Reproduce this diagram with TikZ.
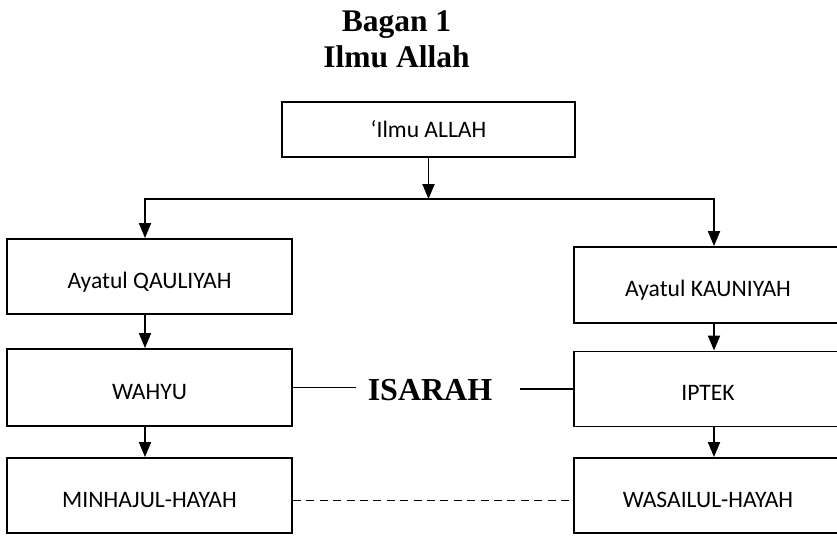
\documentclass[tikz,border=0pt]{standalone}
\usepackage{fontspec}
\setmainfont{Liberation Serif}
\setsansfont{Carlito}
\usepackage{tikz}
\usetikzlibrary{arrows.meta}

\begin{document}
\begin{tikzpicture}[x=1pt,y=-1pt,
line width=1.9pt,
box/.style={draw,rectangle,inner sep=0pt,font=\sffamily\fontsize{23.6}{28}\selectfont},
lowbox/.style={box,text height=23pt,text depth=0pt},
leftbox/.style={lowbox,minimum width=285pt},
rightbox/.style={lowbox,minimum width=268pt},
heading/.style={font=\bfseries\fontsize{31.5}{35}\selectfont,anchor=base,inner sep=0pt},
arr/.style={-{Triangle[length=15pt,width=12pt]}},
dashline/.style={dash pattern=on 8pt off 5.4pt}]
\clip (0,0) rectangle (837,535);
\fill[white] (0,0) rectangle (837,535);
\node (bagan) [heading] at (396.5,32) {Bagan 1};
\node (judul) [heading] at (396.5,67) {Ilmu Allah};
\node (ilmu) [box,minimum width=293pt,minimum height=55pt] at (428.5,129.5) {‘Ilmu ALLAH};
\node (qauliyah) [leftbox,minimum height=75pt] at (149.5,276.5) {Ayatul QAULIYAH};
\node (wahyu) [leftbox,minimum height=77pt] at (149.5,387.5) {WAHYU};
\node (minhajul) [leftbox,minimum height=75pt] at (149.5,495.5) {MINHAJUL-HAYAH};
\node (kauniyah) [rightbox,minimum height=76pt] at (708,285) {Ayatul KAUNIYAH};
\node (iptek) [rightbox,minimum height=75pt] at (708,389) {IPTEK};
\node (wasailul) [rightbox,minimum height=75pt] at (708,495.5) {WASAILUL-HAYAH};
\node (isarah) [font=\bfseries\fontsize{32}{36}\selectfont,inner sep=0pt] at (430,390) {ISARAH};
\coordinate (split) at (428.5,199);
\coordinate (lturn) at (145,199);
\coordinate (rturn) at (714,199);
\draw[arr] (ilmu) -- (split);
\draw[arr] (split) -- (lturn) -- (lturn |- qauliyah.north);
\draw[arr] (split) -- (rturn) -- (rturn |- kauniyah.north);
\draw[arr] (lturn |- qauliyah.south) -- (lturn |- wahyu.north);
\draw[arr] (lturn |- wahyu.south) -- (lturn |- minhajul.north);
\draw[arr] (rturn |- kauniyah.south) -- (rturn |- iptek.north);
\draw[arr] (rturn |- iptek.south) -- (rturn |- wasailul.north);
\draw (wahyu.east) -- ([xshift=-11pt]isarah.west |- wahyu.east);
\draw ([xshift=27pt]isarah.east |- iptek.west) -- (iptek.west);
\draw[dashline] ([yshift=-5pt]minhajul.east) -- ([yshift=-5pt]wasailul.west);
\end{tikzpicture}
\end{document}
